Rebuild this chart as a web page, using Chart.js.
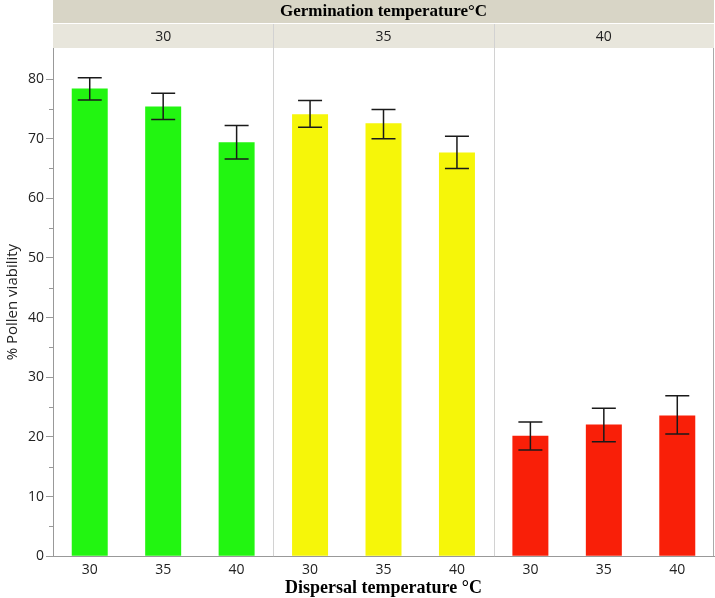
<!DOCTYPE html>
<html>
<head>
<meta charset="utf-8">
<script src="https://cdn.jsdelivr.net/npm/chart.js@4"></script>
<style>
  body { margin: 0; background: #fff; }
  #wrap { width: 715px; height: 598px; }
</style>
</head>
<body>
<div id="wrap"><canvas id="barChart"></canvas></div>
<script>
// data
const germTemps = ['30', '35', '40'];
const dispTemps = ['30', '35', '40', '30', '35', '40', '30', '35', '40'];
const viability = [78.4, 75.4, 69.4, 74.1, 72.6, 67.7, 20.2, 22.1, 23.6];
const errLow = [76.5, 73.2, 66.6, 71.9, 70.0, 65.0, 17.8, 19.2, 20.5];
const errHigh = [80.2, 77.6, 72.2, 76.4, 74.9, 70.4, 22.5, 24.8, 26.9];
const barColors = ['#22f511', '#22f511', '#22f511',
                   '#f6f609', '#f6f609', '#f6f609',
                   '#f91f08', '#f91f08', '#f91f08'];

const headerPlugin = {
  id: 'header',
  afterDraw(chart) {
    const ctx = chart.ctx;
    const a = chart.chartArea;
    const x = chart.scales.x;
    const y = chart.scales.y;
    ctx.save();
    // top title band
    ctx.fillStyle = '#d8d5c6';
    ctx.fillRect(a.left, 0, a.right - a.left, 23);
    ctx.fillStyle = '#e8e6dc';
    ctx.fillRect(a.left, 24, a.right - a.left, 24);
    ctx.fillStyle = '#000';
    ctx.font = 'bold 17px "Liberation Serif"';
    ctx.textAlign = 'center';
    ctx.textBaseline = 'middle';
    ctx.fillText('Germination temperature\u00b0C', (a.left + a.right) / 2, 12);
    // x axis title
    ctx.font = 'bold 18px "Liberation Serif"';
    ctx.fillText('Dispersal temperature \u00b0C', (a.left + a.right) / 2, 588);
    // panel labels + dividers
    const w = (a.right - a.left) / 3;
    ctx.font = '14px "Open Sans"';
    ctx.fillStyle = '#222';
    for (let i = 0; i < germTemps.length; i++) {
      ctx.fillText(germTemps[i], a.left + w * (i + 0.5), 37);
    }
    ctx.strokeStyle = '#d2d2d2';
    ctx.lineWidth = 1;
    for (let i = 1; i < 3; i++) {
      const px = Math.round(a.left + w * i) + 0.5;
      ctx.beginPath();
      ctx.moveTo(px, 24);
      ctx.lineTo(px, a.bottom);
      ctx.stroke();
    }
    // right border
    ctx.strokeStyle = '#aaa';
    ctx.beginPath();
    ctx.moveTo(a.right - 0.5, a.top);
    ctx.lineTo(a.right - 0.5, a.bottom);
    ctx.stroke();
    // minor ticks on y
    ctx.strokeStyle = '#999';
    for (let v = 5; v < 85; v += 10) {
      const py = Math.round(y.getPixelForValue(v)) + 0.5;
      ctx.beginPath();
      ctx.moveTo(a.left - 4, py);
      ctx.lineTo(a.left, py);
      ctx.stroke();
    }
    // error bars
    ctx.strokeStyle = '#1a1a1a';
    ctx.lineWidth = 1.5;
    for (let i = 0; i < viability.length; i++) {
      const cx = x.getPixelForValue(i);
      const yl = y.getPixelForValue(errLow[i]);
      const yh = y.getPixelForValue(errHigh[i]);
      ctx.beginPath();
      ctx.moveTo(cx, yl);
      ctx.lineTo(cx, yh);
      ctx.moveTo(cx - 12, yh);
      ctx.lineTo(cx + 12, yh);
      ctx.moveTo(cx - 12, yl);
      ctx.lineTo(cx + 12, yl);
      ctx.stroke();
    }
    ctx.restore();
  }
};

const config = {
  type: 'bar',
  data: {
    labels: dispTemps,
    datasets: [{
      label: '% Pollen viability',
      data: viability,
      backgroundColor: barColors,
      borderWidth: 0,
      barPercentage: 0.49,
      categoryPercentage: 1.0,
    }],
  },
  options: {
    responsive: true,
    maintainAspectRatio: false,
    animation: false,
    layout: { padding: { top: 48, right: 1, left: 4, bottom: 15 } },
    plugins: {
      legend: { display: false },
      tooltip: { enabled: false },
    },
    scales: {
      x: {
        grid: { display: false, drawTicks: false },
        border: { display: true, color: '#999', width: 1 },
        ticks: { color: '#222', font: { family: 'Open Sans', size: 14 }, padding: 5 },
      },
      y: {
        min: 0,
        max: 85.2,
        afterBuildTicks(scale) {
          scale.ticks = [0, 10, 20, 30, 40, 50, 60, 70, 80].map(v => ({ value: v }));
        },
        grid: { drawOnChartArea: false, tickLength: 7, color: '#999' },
        border: { display: true, color: '#999', width: 1 },
        ticks: { color: '#222', font: { family: 'Open Sans', size: 14 }, padding: 2 },
        title: {
          display: true,
          text: '% Pollen viability',
          color: '#222',
          font: { family: 'Open Sans', size: 15 },
          padding: { top: 0, bottom: 4 },
        },
      },
    },
  },
  plugins: [headerPlugin],
};

var barChart = new Chart(document.getElementById('barChart'), config);
</script>
</body>
</html>
